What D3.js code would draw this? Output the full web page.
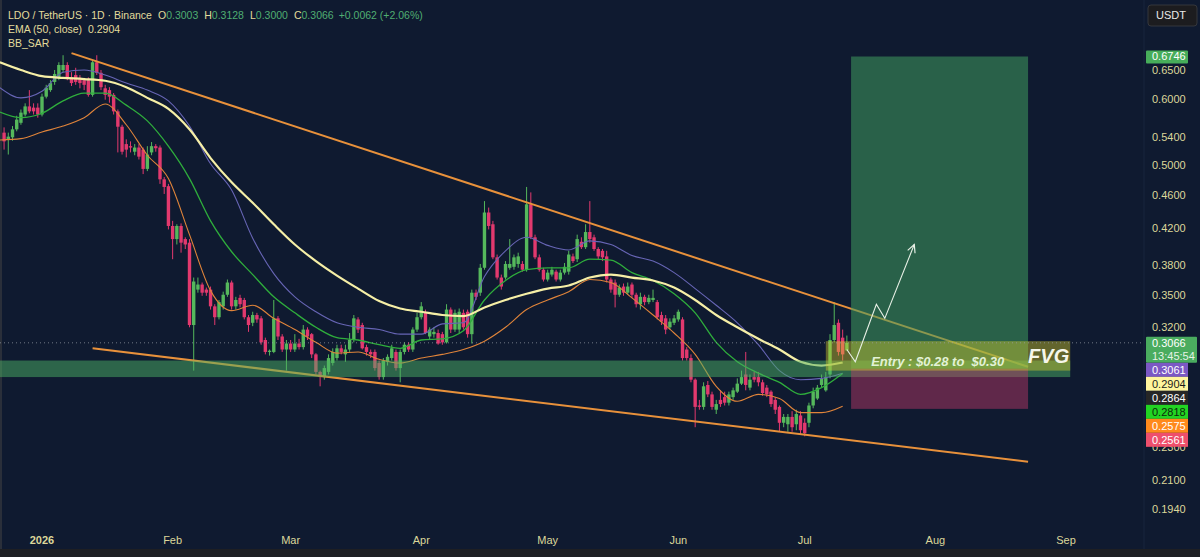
<!DOCTYPE html>
<html lang="en">
<head>
<meta charset="utf-8" />
<title>LDO / TetherUS - 1D</title>
<script src="https://cdn.jsdelivr.net/npm/d3@7"></script>
<style>
  html, body { margin: 0; padding: 0; background: #0f1a30; }
  svg { display: block; font-family: "Liberation Sans", Arial, sans-serif; }
</style>
</head>
<body>
<div id="chart"></div>
<script>
// daily candles, the first one is 2025-12-23
var startDay = "2025-12-23";
var opens = [
  0.547,0.537,0.540,0.552,0.562,0.575,0.588,0.586,0.586,0.575,
  0.604,0.615,0.629,0.636,0.650,0.659,0.637,0.641,0.636,0.632,
  0.632,0.607,0.664,0.645,0.618,0.615,0.607,0.580,0.556,0.530,
  0.527,0.519,0.525,0.522,0.495,0.518,0.527,0.525,0.481,0.472,
  0.423,0.408,0.423,0.408,0.404,0.322,0.355,0.360,0.355,0.355,
  0.339,0.329,0.339,0.350,0.362,0.339,0.347,0.345,0.329,0.324,
  0.331,0.328,0.309,0.299,0.299,0.328,0.312,0.301,0.306,0.301,
  0.306,0.303,0.318,0.314,0.297,0.283,0.279,0.283,0.290,0.294,
  0.302,0.297,0.301,0.309,0.327,0.322,0.303,0.299,0.299,0.290,
  0.279,0.291,0.294,0.299,0.286,0.299,0.305,0.301,0.318,0.329,
  0.333,0.312,0.314,0.315,0.314,0.307,0.336,0.318,0.318,0.333,
  0.334,0.314,0.352,0.352,0.377,0.439,0.425,0.388,0.367,0.367,
  0.377,0.378,0.381,0.381,0.375,0.449,0.410,0.388,0.375,0.365,
  0.370,0.373,0.365,0.372,0.373,0.389,0.386,0.405,0.399,0.416,
  0.410,0.397,0.395,0.389,0.365,0.362,0.350,0.358,0.352,0.360,
  0.350,0.341,0.348,0.343,0.345,0.343,0.331,0.328,0.320,0.324,
  0.327,0.327,0.301,0.294,0.277,0.258,0.257,0.273,0.266,0.255,
  0.262,0.264,0.260,0.264,0.268,0.274,0.281,0.271,0.279,0.279,
  0.275,0.271,0.268,0.262,0.257,0.246,0.245,0.250,0.245,0.251,
  0.246,0.246,0.258,0.263,0.273,0.269,0.281,0.309,0.324,0.311,
  0.3003];
var highs = [
  0.555,0.547,0.557,0.573,0.583,0.593,0.615,0.593,0.593,0.609,
  0.624,0.632,0.650,0.664,0.677,0.664,0.646,0.654,0.641,0.636,
  0.637,0.668,0.677,0.650,0.624,0.620,0.610,0.583,0.559,0.537,
  0.534,0.530,0.530,0.525,0.527,0.533,0.530,0.528,0.484,0.475,
  0.429,0.425,0.426,0.410,0.408,0.367,0.367,0.362,0.357,0.358,
  0.341,0.345,0.353,0.365,0.364,0.348,0.350,0.347,0.331,0.334,
  0.333,0.330,0.311,0.301,0.345,0.330,0.314,0.309,0.309,0.314,
  0.310,0.322,0.320,0.315,0.298,0.284,0.288,0.297,0.302,0.305,
  0.305,0.305,0.315,0.331,0.329,0.324,0.305,0.301,0.301,0.292,
  0.294,0.297,0.305,0.301,0.301,0.307,0.307,0.320,0.333,0.343,
  0.336,0.320,0.320,0.318,0.316,0.341,0.338,0.336,0.337,0.336,
  0.336,0.355,0.355,0.381,0.453,0.445,0.429,0.391,0.370,0.384,
  0.408,0.391,0.393,0.384,0.471,0.464,0.413,0.391,0.377,0.375,
  0.378,0.375,0.375,0.382,0.395,0.392,0.413,0.410,0.425,0.453,
  0.413,0.399,0.397,0.395,0.367,0.365,0.360,0.361,0.362,0.362,
  0.352,0.352,0.350,0.350,0.355,0.345,0.334,0.331,0.328,0.331,
  0.336,0.329,0.303,0.297,0.278,0.262,0.275,0.276,0.268,0.262,
  0.269,0.268,0.268,0.271,0.278,0.284,0.299,0.281,0.283,0.283,
  0.277,0.273,0.269,0.264,0.258,0.252,0.252,0.254,0.255,0.254,
  0.249,0.260,0.271,0.273,0.281,0.283,0.314,0.343,0.327,0.318,
  0.3128];
var lows = [
  0.522,0.515,0.535,0.549,0.559,0.572,0.577,0.575,0.570,0.572,
  0.601,0.612,0.624,0.632,0.646,0.632,0.622,0.624,0.618,0.615,
  0.604,0.604,0.641,0.615,0.599,0.594,0.575,0.518,0.515,0.511,
  0.518,0.514,0.508,0.488,0.492,0.514,0.519,0.475,0.462,0.419,
  0.386,0.402,0.393,0.397,0.320,0.284,0.352,0.349,0.349,0.336,
  0.322,0.327,0.336,0.348,0.336,0.336,0.338,0.327,0.316,0.321,
  0.324,0.305,0.297,0.296,0.298,0.309,0.299,0.284,0.299,0.299,
  0.301,0.301,0.309,0.294,0.281,0.272,0.277,0.281,0.288,0.292,
  0.297,0.291,0.299,0.307,0.315,0.301,0.296,0.294,0.284,0.277,
  0.277,0.288,0.292,0.284,0.275,0.297,0.299,0.299,0.316,0.327,
  0.314,0.309,0.311,0.305,0.305,0.306,0.315,0.316,0.315,0.318,
  0.311,0.306,0.345,0.349,0.375,0.419,0.386,0.365,0.355,0.365,
  0.375,0.375,0.377,0.373,0.373,0.408,0.386,0.373,0.363,0.363,
  0.368,0.363,0.363,0.370,0.370,0.382,0.383,0.397,0.397,0.404,
  0.395,0.386,0.384,0.362,0.352,0.338,0.348,0.349,0.350,0.347,
  0.338,0.336,0.340,0.341,0.343,0.327,0.322,0.314,0.318,0.322,
  0.325,0.292,0.292,0.275,0.243,0.255,0.255,0.264,0.255,0.252,
  0.257,0.258,0.258,0.262,0.267,0.273,0.269,0.269,0.275,0.272,
  0.265,0.264,0.257,0.252,0.240,0.243,0.240,0.240,0.241,0.238,
  0.237,0.243,0.256,0.262,0.271,0.268,0.278,0.307,0.296,0.292,
  0.3000];
var closes = [
  0.534,0.541,0.552,0.567,0.578,0.588,0.580,0.580,0.575,0.604,
  0.619,0.627,0.643,0.659,0.659,0.637,0.627,0.629,0.627,0.624,
  0.607,0.664,0.645,0.620,0.607,0.604,0.580,0.556,0.519,0.522,
  0.525,0.525,0.512,0.495,0.515,0.527,0.524,0.481,0.471,0.423,
  0.408,0.423,0.404,0.402,0.322,0.363,0.360,0.352,0.352,0.339,
  0.329,0.343,0.350,0.362,0.339,0.345,0.341,0.329,0.322,0.331,
  0.327,0.307,0.299,0.300,0.328,0.312,0.301,0.306,0.301,0.306,
  0.303,0.318,0.312,0.297,0.283,0.279,0.286,0.294,0.299,0.302,
  0.299,0.301,0.309,0.328,0.318,0.302,0.299,0.297,0.286,0.279,
  0.292,0.295,0.302,0.286,0.299,0.305,0.301,0.318,0.329,0.339,
  0.315,0.318,0.316,0.306,0.307,0.336,0.318,0.333,0.334,0.320,
  0.314,0.352,0.348,0.377,0.439,0.423,0.388,0.367,0.358,0.381,
  0.381,0.388,0.389,0.375,0.449,0.410,0.388,0.375,0.365,0.372,
  0.375,0.365,0.372,0.378,0.391,0.384,0.408,0.399,0.416,0.408,
  0.397,0.389,0.388,0.365,0.355,0.350,0.357,0.352,0.358,0.350,
  0.341,0.348,0.343,0.347,0.347,0.329,0.325,0.318,0.325,0.328,
  0.334,0.294,0.294,0.277,0.257,0.257,0.272,0.266,0.257,0.259,
  0.259,0.260,0.266,0.269,0.274,0.279,0.273,0.277,0.277,0.275,
  0.267,0.266,0.259,0.255,0.246,0.250,0.250,0.243,0.252,0.241,
  0.239,0.258,0.268,0.271,0.278,0.279,0.309,0.322,0.299,0.297,
  0.3066];

// indicator lines, one value every 5 days from 2025-12-22
var lineStart = "2025-12-22";
var lineStepDays = 5;
var ema50 = [0.664,0.650,0.639,0.636,0.634,0.631,0.620,0.602,0.584,0.552,
  0.510,0.477,0.451,0.425,0.402,0.384,0.369,0.356,0.344,0.337,
  0.334,0.331,0.330,0.338,0.345,0.351,0.356,0.359,0.367,0.370,
  0.367,0.364,0.357,0.345,0.331,0.320,0.310,0.301,0.291,0.288,0.2904];
var bbUpper = [0.619,0.602,0.613,0.646,0.650,0.641,0.627,0.615,0.597,0.557,
  0.502,0.467,0.409,0.371,0.348,0.334,0.324,0.320,0.318,0.314,
  0.314,0.323,0.324,0.368,0.395,0.410,0.401,0.396,0.406,0.402,
  0.390,0.384,0.372,0.356,0.340,0.324,0.305,0.284,0.277,0.278,0.282];
var bbBasis = [0.579,0.570,0.577,0.597,0.610,0.610,0.590,0.565,0.527,0.482,
  0.429,0.394,0.370,0.348,0.333,0.320,0.311,0.309,0.305,0.302,
  0.309,0.310,0.317,0.345,0.364,0.375,0.377,0.377,0.386,0.385,
  0.372,0.364,0.351,0.333,0.307,0.291,0.282,0.275,0.266,0.271,0.2818];
var sarLine = [0.536,0.538,0.548,0.557,0.570,0.592,0.559,0.514,0.482,0.413,
  0.354,0.335,0.340,0.328,0.318,0.307,0.298,0.299,0.293,0.290,
  0.294,0.297,0.301,0.308,0.320,0.336,0.345,0.353,0.365,0.362,
  0.347,0.331,0.315,0.297,0.272,0.261,0.266,0.263,0.253,0.253,0.2575];

// axes (ticks hidden behind the price tags are left out)
var priceTicks = [0.65,0.60,0.54,0.50,0.46,0.42,0.38,0.35,0.32,0.23,0.21,0.194];
var monthDates = ["2026-01-01","2026-02-01","2026-03-01","2026-04-01","2026-05-01","2026-06-01","2026-07-01","2026-08-01","2026-09-01"];
var monthLabels = ["2026","Feb","Mar","Apr","May","Jun","Jul","Aug","Sep"];

// drawings on the chart
var upperTrend = [["2026-01-08",0.681],["2026-08-23",0.287]];
var lowerTrend = [["2026-01-13",0.302],["2026-08-23",0.221]];
var zoneBand = {from:"2025-12-20", to:"2026-09-02", top:0.292, bottom:0.279};
var fvgBox = {from:"2026-07-06", to:"2026-09-02", top:0.308, bottom:0.284};
var trade = {from:"2026-07-12", to:"2026-08-23", target:0.6746, entry:0.2855, stop:0.2556};
var pathDates = ["2026-07-11","2026-07-13","2026-07-18","2026-07-20","2026-07-27"];
var pathPrices = [0.301,0.291,0.341,0.328,0.402];

// price tags stacked under the last price
var tagValues = ["0.3061","0.2904","0.2864","0.2818","0.2575","0.2561"];
var tagFill = ["#7b58c4","#fff59d","#262626","#22d422","#ff8a1c","#ee4f6c"];
var tagInk = ["#ffffff","#1a1a1a","#ffffff","#0b2a0b","#ffffff","#ffffff"];

var W = 1200, H = 557;
var plotRight = 1144, plotBottom = 525;
var axisInk = "#dcd79a";

var parse = d3.utcParse("%Y-%m-%d");
var DAY = 864e5;

var x = d3.scaleUtc()
    .domain([parse("2026-01-01"), parse("2026-09-01")])
    .range([42, 1066]);
var y = d3.scaleLog()
    .domain([0.65, 0.194])
    .range([70, 509]);

var svg = d3.select("#chart").append("svg")
    .attr("width", W)
    .attr("height", H);

svg.append("rect").attr("width", W).attr("height", H).attr("fill", "#0f1a30");
svg.append("rect").attr("x", 0).attr("y", 549).attr("width", W).attr("height", 8).attr("fill", "#1e1f23");
svg.append("rect").attr("x", 0).attr("y", 0).attr("width", 2).attr("height", 549).attr("fill", "#2a2f3a");
svg.append("line").attr("x1", plotRight).attr("x2", plotRight).attr("y1", 0).attr("y2", 549)
    .attr("stroke", "#18243d");

var defs = svg.append("defs");
defs.append("clipPath").attr("id", "plotclip").append("rect")
    .attr("x", 0).attr("y", 0).attr("width", plotRight).attr("height", plotBottom);
defs.append("marker")
    .attr("id", "arrowhead")
    .attr("viewBox", "0 0 10 10")
    .attr("refX", 9).attr("refY", 5)
    .attr("markerWidth", 9).attr("markerHeight", 9)
    .attr("orient", "auto")
    .append("path")
    .attr("d", "M1,1 L9,5 L1,9")
    .attr("fill", "none")
    .attr("stroke", "#e8f0e6")
    .attr("stroke-width", 1.2);

var plot = svg.append("g").attr("clip-path", "url(#plotclip)");

// candles
var t0 = parse(startDay);
var candles = closes.map(function (c, i) {
    return { date: new Date(+t0 + i * DAY), o: opens[i], h: highs[i], l: lows[i], c: c };
});
var upCol = "#55b85c", downCol = "#e2396e";

var cg = plot.selectAll(".candle")
    .data(candles)
    .enter()
    .append("g")
    .attr("class", "candle");
cg.append("line")
    .attr("x1", function (d) { return x(d.date); })
    .attr("x2", function (d) { return x(d.date); })
    .attr("y1", function (d) { return y(d.h); })
    .attr("y2", function (d) { return y(d.l); })
    .attr("stroke", function (d) { return d.c >= d.o ? upCol : downCol; })
    .attr("stroke-width", 1);
cg.append("rect")
    .attr("x", function (d) { return x(d.date) - 1.7; })
    .attr("width", 3.4)
    .attr("y", function (d) { return y(Math.max(d.o, d.c)); })
    .attr("height", function (d) { return Math.max(1, Math.abs(y(d.o) - y(d.c))); })
    .attr("fill", function (d) { return d.c >= d.o ? upCol : downCol; });

// indicator lines
var l0 = parse(lineStart);
function lineOf(values) {
    return values.map(function (v, i) { return { date: new Date(+l0 + i * lineStepDays * DAY), v: v }; });
}
var lineGen = d3.line()
    .x(function (d) { return x(d.date); })
    .y(function (d) { return y(d.v); })
    .curve(d3.curveMonotoneX);

plot.append("path").datum(lineOf(sarLine)).attr("d", lineGen)
    .attr("fill", "none").attr("stroke", "#e0843a").attr("stroke-width", 1.1);
plot.append("path").datum(lineOf(bbUpper)).attr("d", lineGen)
    .attr("fill", "none").attr("stroke", "#6765b5").attr("stroke-width", 1.1);
plot.append("path").datum(lineOf(bbBasis)).attr("d", lineGen)
    .attr("fill", "none").attr("stroke", "#2fae3c").attr("stroke-width", 1.3);
plot.append("path").datum(lineOf(ema50)).attr("d", lineGen)
    .attr("fill", "none").attr("stroke", "#f6efa6").attr("stroke-width", 2.2);

// trend lines
function trendLine(pts) {
    plot.append("line")
        .attr("x1", x(parse(pts[0][0]))).attr("y1", y(pts[0][1]))
        .attr("x2", x(parse(pts[1][0]))).attr("y2", y(pts[1][1]))
        .attr("stroke", "#e8913b").attr("stroke-width", 2);
}
trendLine(upperTrend);
trendLine(lowerTrend);

// support band
plot.append("rect")
    .attr("x", x(parse(zoneBand.from)))
    .attr("width", x(parse(zoneBand.to)) - x(parse(zoneBand.from)))
    .attr("y", y(zoneBand.top))
    .attr("height", y(zoneBand.bottom) - y(zoneBand.top))
    .attr("fill", "#4caf63").attr("fill-opacity", 0.5);

// long position boxes
var tx0 = x(parse(trade.from)), tx1 = x(parse(trade.to));
plot.append("rect")
    .attr("x", tx0).attr("width", tx1 - tx0)
    .attr("y", y(trade.target)).attr("height", y(trade.entry) - y(trade.target))
    .attr("fill", "#3f9c5e").attr("fill-opacity", 0.55);
plot.append("rect")
    .attr("x", tx0).attr("width", tx1 - tx0)
    .attr("y", y(trade.entry)).attr("height", y(trade.stop) - y(trade.entry))
    .attr("fill", "#c43a6a").attr("fill-opacity", 0.45);

// FVG box
var fx0 = x(parse(fvgBox.from)), fx1 = x(parse(fvgBox.to));
plot.append("rect")
    .attr("x", fx0).attr("width", fx1 - fx0)
    .attr("y", y(fvgBox.top)).attr("height", y(fvgBox.bottom) - y(fvgBox.top))
    .attr("fill", "#d9cc2c").attr("fill-opacity", 0.42);

plot.append("text")
    .attr("x", x(parse("2026-07-17")) - 1)
    .attr("y", y(fvgBox.bottom) - 5)
    .attr("font-size", 13).attr("font-weight", "bold").attr("font-style", "italic")
    .attr("fill", "#e3f2d6")
    .text("Entry : $0.28 to\u00a0\u00a0$0.30");
plot.append("text")
    .attr("x", fx1 - 1)
    .attr("y", (y(fvgBox.top) + y(fvgBox.bottom)) / 2 + 7)
    .attr("text-anchor", "end")
    .attr("font-size", 20).attr("font-weight", "bold").attr("font-style", "italic")
    .attr("fill", "#f6f6ea")
    .text("FVG");

// projected path
var pathPts = pathDates.map(function (d, i) { return [x(parse(d)), y(pathPrices[i])]; });
plot.append("path")
    .attr("d", d3.line()(pathPts))
    .attr("fill", "none")
    .attr("stroke", "#e8f0e6")
    .attr("stroke-width", 1.1)
    .attr("marker-end", "url(#arrowhead)");

// last price dotted line
var lastClose = closes[closes.length - 1];
plot.append("line")
    .attr("x1", 0).attr("x2", plotRight)
    .attr("y1", y(lastClose)).attr("y2", y(lastClose))
    .attr("stroke", "#9aa0ab").attr("stroke-opacity", 0.7)
    .attr("stroke-dasharray", "1,3");

// price axis
svg.append("g").selectAll("text")
    .data(priceTicks)
    .enter()
    .append("text")
    .attr("x", 1152)
    .attr("y", function (d) { return y(d); })
    .attr("dy", "0.35em")
    .attr("font-size", 11)
    .attr("fill", axisInk)
    .text(function (d) { return d.toFixed(4); });

// time axis
svg.append("g").selectAll("text")
    .data(monthDates)
    .enter()
    .append("text")
    .attr("x", function (d) { return x(parse(d)); })
    .attr("y", 544)
    .attr("text-anchor", "middle")
    .attr("font-size", 11)
    .attr("font-weight", function (d, i) { return i === 0 ? "bold" : "normal"; })
    .attr("fill", axisInk)
    .text(function (d, i) { return monthLabels[i]; });

// tags on the price axis
var ty = y(trade.target);
svg.append("rect").attr("x", 1146).attr("y", ty - 6).attr("width", 42).attr("height", 13)
    .attr("rx", 1).attr("fill", "#47ad5a");
svg.append("text").attr("x", 1152).attr("y", ty).attr("dy", "0.35em")
    .attr("font-size", 11).attr("fill", "#ffffff").text(trade.target.toFixed(4));

var ly = y(lastClose);
svg.append("rect").attr("x", 1146).attr("y", ly - 6).attr("width", 51).attr("height", 26)
    .attr("rx", 1).attr("fill", "#4aac5f");
svg.append("text").attr("x", 1152).attr("y", ly).attr("dy", "0.35em")
    .attr("font-size", 11).attr("fill", "#ffffff").text(lastClose.toFixed(4));
svg.append("text").attr("x", 1152).attr("y", ly + 13).attr("dy", "0.35em")
    .attr("font-size", 11).attr("fill", "#e6f3e6").text("13:45:54");

var tagTop = ly + 20;
tagValues.forEach(function (v, i) {
    var top = tagTop + i * 14;
    svg.append("rect").attr("x", 1146).attr("y", top).attr("width", 42).attr("height", 14)
        .attr("fill", tagFill[i]);
    svg.append("text").attr("x", 1152).attr("y", top + 7).attr("dy", "0.35em")
        .attr("font-size", 11).attr("fill", tagInk[i]).text(v);
});

// currency button
svg.append("rect").attr("x", 1148).attr("y", 5).attr("width", 49).attr("height", 21)
    .attr("rx", 3).attr("fill", "#1c1c1f").attr("stroke", "#34363c");
svg.append("text").attr("x", 1156).attr("y", 19).attr("font-size", 11)
    .attr("fill", "#e8e8e8").text("USDT");

// legend
var legInk = "#e2dc9c", valInk = "#4fae72";
var leg = svg.append("g").attr("font-size", 10.5);
var row1 = leg.append("text").attr("x", 8).attr("y", 19);
row1.append("tspan").attr("fill", legInk).text("LDO / TetherUS \u00b7 1D \u00b7 Binance");
var ohlc = [["O", "0.3003"], ["H", "0.3128"], ["L", "0.3000"], ["C", "0.3066"]];
ohlc.forEach(function (p) {
    row1.append("tspan").attr("dx", 6).attr("fill", legInk).text(p[0]);
    row1.append("tspan").attr("fill", valInk).text(p[1]);
});
row1.append("tspan").attr("dx", 5).attr("fill", valInk).text("+0.0062 (+2.06%)");
leg.append("text").attr("x", 8).attr("y", 33).attr("fill", legInk).text("EMA (50, close)\u00a0\u00a00.2904");
leg.append("text").attr("x", 8).attr("y", 47).attr("fill", legInk).text("BB_SAR");
</script>
</body>
</html>
